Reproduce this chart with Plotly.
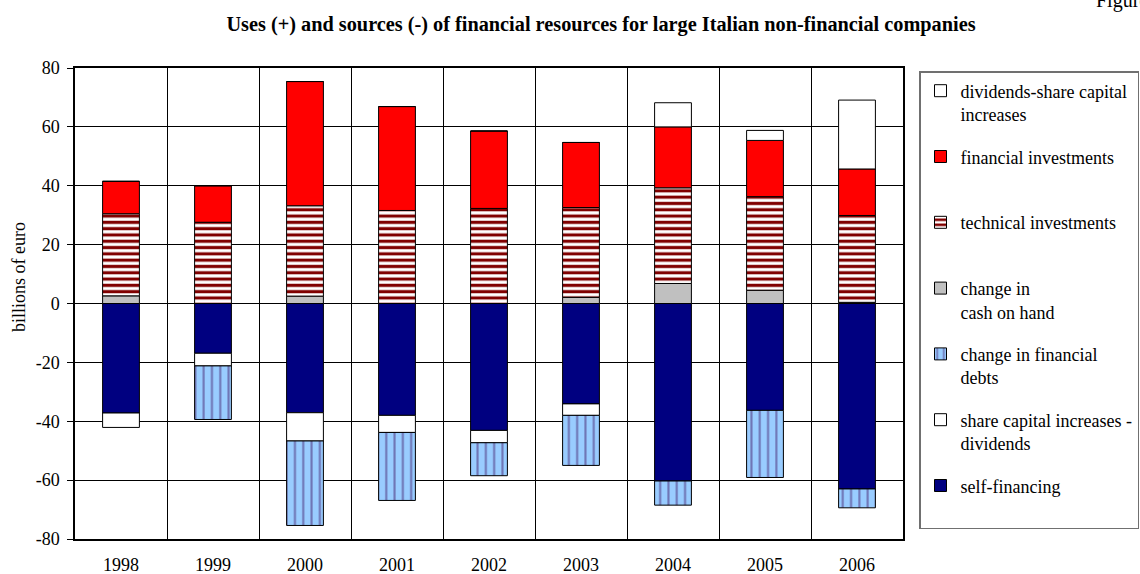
import plotly.graph_objects as go

# Years on the category axis
years = ["1998", "1999", "2000", "2001", "2002", "2003", "2004", "2005", "2006"]

# Uses (+), billions of euro
cash_on_hand = [2.6, 0.0, 2.5, 0.0, 0.0, 2.1, 6.8, 4.5, 0.4]
technical_inv = [27.9, 27.6, 30.7, 31.6, 32.3, 30.5, 32.5, 31.8, 29.5]
financial_inv = [11.0, 12.4, 42.2, 35.3, 26.3, 22.1, 20.7, 19.1, 15.8]
dividends_net = [0.0, 0.0, 0.0, 0.0, 0.0, 0.0, 8.2, 3.4, 23.4]

# Sources (-), billions of euro
self_financing = [-37.2, -16.9, -37.1, -38.0, -43.1, -34.1, -60.3, -36.3, -63.0]
share_capital_net = [-4.9, -4.3, -9.6, -5.8, -4.2, -3.9, 0.0, 0.0, 0.0]
financial_debts = [0.0, -18.2, -28.7, -23.1, -11.2, -17.0, -8.2, -22.8, -6.4]

y_ticks = [-80, -60, -40, -20, 0, 20, 40, 60, 80]
y_tick_text = ["-80", "-60", "-40", "-20", "0", "20", "40", "60", "80"]

FONT = "Liberation Serif, Times New Roman, serif"
W, H = 1140, 574
ML, MR, MT, MB = 75, 237, 68, 35
PW, PH = W - ML - MR, H - MT - MB


def px_x(x):
    return (x - ML) / PW


def px_y(y):
    return (H - MB - y) / PH


outline = dict(color="black", width=1)

# (legend rank, name, values, marker); stacking follows list order
series = [
    (7, "self-financing<br> ", self_financing,
     dict(color="#000080", line=outline)),
    (6, "share capital increases -<br>dividends", share_capital_net,
     dict(color="white", line=outline)),
    (5, "change in financial<br>debts", financial_debts,
     dict(color="#99CCFF", line=outline,
          pattern=dict(shape="|", size=8.3, solidity=0.25,
                       fgcolor="#6E74B4", bgcolor="#99CCFF",
                       fillmode="replace"))),
    (4, "change in<br>cash on hand", cash_on_hand,
     dict(color="#C0C0C0", line=outline)),
    (3, "technical investments<br> ", technical_inv,
     dict(color="#800000", line=outline,
          pattern=dict(shape="-", size=6.3, solidity=0.5,
                       fgcolor="#800000", bgcolor="white",
                       fillmode="replace"))),
    (2, "financial investments<br> ", financial_inv,
     dict(color="#FF0000", line=outline)),
    (1, "dividends-share capital<br>increases", dividends_net,
     dict(color="white", line=outline)),
]

fig = go.Figure()
for rank, name, vals, marker in series:
    fig.add_trace(go.Bar(x=years, y=vals, name=name, marker=marker,
                         legendgroup=f"g{rank}", legendrank=rank))

fig.update_layout(
    width=W, height=H, autosize=False,
    margin=dict(l=ML, r=MR, t=MT, b=MB, pad=0, autoexpand=False),
    barmode="relative", bargap=0.6,
    paper_bgcolor="white", plot_bgcolor="white",
    font=dict(family=FONT, size=18, color="black"),
    title=dict(
        text="<b>Uses (+) and sources (-) of financial resources for large Italian non-financial companies</b>",
        x=601 / W, xanchor="center", xref="container",
        y=1 - 24 / H, yanchor="middle", yref="container",
        font=dict(family=FONT, size=20.3, color="black"),
    ),
    legend=dict(
        x=px_x(919), xanchor="left", y=px_y(71), yanchor="top",
        traceorder="grouped", tracegroupgap=16,
        valign="top", bgcolor="white",
        bordercolor="#707070", borderwidth=1.5,
        font=dict(family=FONT, size=18, color="black"),
    ),
    xaxis=dict(
        type="category", tickson="boundaries",
        showgrid=True, gridcolor="black", gridwidth=1,
        showline=True, linecolor="black", linewidth=1.5, mirror=True,
        ticks="", ticklabelstandoff=9,
        tickfont=dict(family=FONT, size=18, color="black"),
    ),
    yaxis=dict(
        range=[-80, 80], tickvals=y_ticks, ticktext=y_tick_text,
        showgrid=True, gridcolor="black", gridwidth=1,
        zeroline=True, zerolinecolor="black", zerolinewidth=1,
        showline=True, linecolor="black", linewidth=1.5, mirror=True,
        ticks="outside", ticklen=6, tickcolor="black", tickwidth=1,
        ticklabelstandoff=4,
        tickfont=dict(family=FONT, size=18, color="black"),
    ),
    annotations=[
        dict(text="billions of euro", textangle=-90,
             x=px_x(19), y=px_y(277), xref="paper", yref="paper",
             xanchor="center", yanchor="middle", showarrow=False,
             font=dict(family=FONT, size=18, color="black")),
        dict(text="Figure", x=px_x(1094), y=px_y(0),
             xref="paper", yref="paper", xanchor="left", yanchor="middle",
             showarrow=False,
             font=dict(family=FONT, size=20, color="black")),
    ],
)

fig.write_html("out.html")
